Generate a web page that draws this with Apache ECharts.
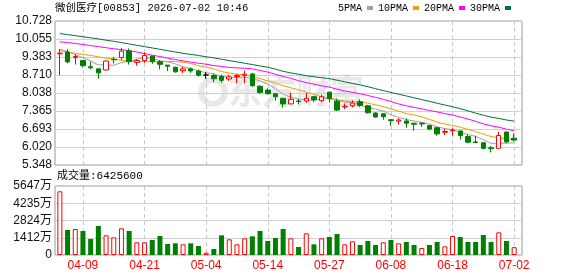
<!DOCTYPE html>
<html>
<head>
<meta charset="utf-8">
<title>微创医疗 K线</title>
<script src="https://cdn.jsdelivr.net/npm/echarts@6/dist/echarts.min.js"></script>
<style>
html, body { margin: 0; padding: 0; background: #fff; }
#chart { width: 578px; height: 276px; }
</style>
</head>
<body>
<div id="chart"></div>
<script>
// trading days shown on the chart
var dates = ['04-01','04-02','04-08','04-09','04-10','04-13','04-14','04-15','04-16','04-17',
  '04-20','04-21','04-22','04-23','04-24','04-27','04-28','04-29','04-30','05-04',
  '05-05','05-06','05-07','05-08','05-11','05-12','05-13','05-14','05-15','05-18',
  '05-19','05-20','05-21','05-22','05-26','05-27','05-28','05-29','06-01','06-02',
  '06-03','06-04','06-05','06-08','06-09','06-10','06-11','06-12','06-15','06-16',
  '06-17','06-18','06-22','06-23','06-24','06-25','06-26','06-29','06-30','07-02'];

var opens = [9.50,9.57,9.36,9.25,9.02,8.94,8.90,9.30,9.36,9.61,
  9.18,9.25,9.42,9.20,9.08,9.00,8.87,8.94,8.86,8.71,
  8.69,8.66,8.56,8.65,8.70,8.75,8.29,8.15,8.01,7.84,
  7.63,7.74,7.74,7.90,7.75,8.07,7.73,7.52,7.56,7.71,
  7.56,7.29,7.26,7.04,6.99,6.99,6.91,6.91,6.82,6.74,
  6.57,6.63,6.62,6.41,6.21,6.18,5.99,5.97,6.58,6.35];
var closes = [9.53,9.20,9.40,9.06,8.98,8.79,9.23,9.28,9.60,9.21,
  9.25,9.44,9.21,9.11,9.04,8.83,8.94,8.86,8.70,8.71,
  8.57,8.51,8.64,8.69,8.74,8.31,8.06,8.01,7.90,7.63,
  7.80,7.72,7.84,7.79,7.90,7.83,7.40,7.54,7.66,7.57,
  7.30,7.14,7.16,7.01,7.03,6.91,6.87,6.88,6.69,6.51,
  6.60,6.66,6.45,6.20,6.19,5.97,5.96,6.45,6.21,6.28];
var lows = [8.71,9.15,9.10,8.99,8.92,8.57,8.87,9.14,9.28,9.10,
  9.06,9.17,9.13,8.92,8.86,8.80,8.79,8.79,8.65,8.57,
  8.44,8.42,8.49,8.40,8.40,8.27,8.00,7.98,7.75,7.49,
  7.61,7.62,7.68,7.70,7.69,7.68,7.37,7.44,7.50,7.52,
  7.27,7.12,7.04,6.81,6.86,6.74,6.63,6.77,6.65,6.44,
  6.47,6.44,6.30,6.16,6.16,5.93,5.82,5.96,6.17,6.23];
var highs = [9.68,9.68,9.48,9.25,9.21,8.94,9.25,9.38,9.73,9.70,
  9.31,9.55,9.42,9.27,9.08,9.02,9.02,8.99,8.91,8.81,
  8.77,8.73,8.72,8.75,8.87,8.77,8.33,8.21,8.03,7.86,
  8.05,7.82,8.04,7.93,7.98,8.08,7.82,7.65,7.76,7.80,
  7.60,7.31,7.27,7.06,7.09,7.09,6.92,6.94,6.84,6.76,
  6.70,6.72,6.63,6.49,6.44,6.19,6.06,6.59,6.60,6.52];

// volume, in 万 shares
var volumes = [5212,2047,2128,1965,1310,2374,1610,1446,2183,1965,
  1037,1037,1228,1556,900,955,873,955,737,191,
  491,1610,1283,873,1365,1528,1965,1146,1392,2128,
  1365,655,1774,873,1365,1474,1719,873,1119,819,
  1146,819,1037,1228,955,1064,819,573,819,1064,
  710,1556,1474,1064,1064,1637,1064,1856,1146,642.56];

var ma5 = [9.68,9.58,9.47,9.36,9.236,9.086,9.096,9.072,9.176,9.22,
  9.306,9.35,9.336,9.242,9.206,9.124,9.022,8.952,8.866,8.798,
  8.746,8.66,8.616,8.618,8.63,8.582,8.492,8.366,8.208,7.984,
  7.882,7.816,7.782,7.762,7.816,7.824,7.758,7.698,7.668,7.60,
  7.49,7.438,7.36,7.23,7.124,7.046,6.992,6.938,6.876,6.774,
  6.71,6.668,6.58,6.484,6.418,6.296,6.156,6.162,6.16,6.178];
var ma10 = [9.62,9.57,9.52,9.48,9.44,9.39,9.34,9.30,9.26,9.228,
  9.196,9.223,9.204,9.209,9.213,9.215,9.186,9.144,9.054,9.002,
  8.935,8.841,8.784,8.742,8.714,8.664,8.576,8.491,8.413,8.307,
  8.232,8.154,8.074,7.985,7.90,7.853,7.787,7.74,7.715,7.708,
  7.657,7.598,7.529,7.449,7.362,7.268,7.215,7.149,7.053,6.949,
  6.878,6.83,6.759,6.68,6.596,6.503,6.412,6.371,6.322,6.298];
var ma20 = [9.95,9.92,9.89,9.85,9.81,9.77,9.73,9.69,9.66,9.62,
  9.57,9.51,9.45,9.40,9.34,9.29,9.24,9.19,9.15,9.115,
  9.066,9.032,8.994,8.976,8.964,8.940,8.881,8.818,8.734,8.655,
  8.584,8.498,8.429,8.364,8.307,8.259,8.182,8.116,8.064,8.008,
  7.945,7.876,7.802,7.717,7.631,7.561,7.501,7.445,7.384,7.329,
  7.268,7.214,7.144,7.065,6.979,6.886,6.814,6.76,6.688,6.624];
var ma30 = [10.26,10.22,10.18,10.14,10.10,10.06,10.01,9.97,9.92,9.87,
  9.82,9.77,9.72,9.67,9.62,9.57,9.52,9.48,9.44,9.39,
  9.35,9.30,9.25,9.20,9.15,9.10,9.05,9.00,8.93,8.846,
  8.788,8.739,8.687,8.645,8.609,8.577,8.516,8.458,8.394,8.339,
  8.275,8.198,8.129,8.059,7.992,7.928,7.859,7.793,7.727,7.655,
  7.589,7.527,7.454,7.371,7.286,7.208,7.138,7.087,7.03,6.985];

var priceTicks = ['5.348','6.020','6.693','7.365','8.038','8.710','9.383','10.055','10.728'];
var volumeTicks = ['0','1412万','2824万','4235万','5647万'];

var PRICE_MIN = 5.348, PRICE_STEP = 0.6725;
var VOL_MAX = 5647, VOL_STEP = VOL_MAX / 4;

var RED = '#ff0000', GREEN = '#008000';
var FONT = '"Liberation Sans", "Noto Sans CJK SC", sans-serif';
var MONO = '"Liberation Mono", "Noto Sans CJK SC", monospace';

// the price axis starts at 0 so the ticks line up: values are shifted by PRICE_MIN
function sp(v) { return +(v - PRICE_MIN).toFixed(4); }

var kData = dates.map(function (d, i) {
  return [sp(opens[i]), sp(closes[i]), sp(lows[i]), sp(highs[i])];
});

var volData = volumes.map(function (v, i) {
  var up = i === 0 ? closes[i] >= opens[i] : closes[i] >= closes[i - 1];
  return {
    value: v,
    itemStyle: up ? { color: '#fff', borderColor: RED, borderWidth: 1 }
                  : { color: GREEN, borderColor: GREEN, borderWidth: 0 }
  };
});

function every8(i) { return i % 8 === 3; }

var dashed = { show: true, interval: every8, alignWithLabel: true,
  lineStyle: { color: '#c8c8c8', type: [4, 3], width: 1 } };
var solid = { show: true, lineStyle: { color: '#d0d0d0', width: 1 } };

var maLine = function (name, data, color) {
  return {
    name: name, type: 'line', xAxisIndex: 1, yAxisIndex: 1,
    data: data.map(sp), symbol: 'none', color: color,
    lineStyle: { width: 1, color: color }, z: 3, silent: true
  };
};

var chart = echarts.init(document.getElementById('chart'), null, { renderer: 'canvas' });

chart.setOption({
  animation: false,
  backgroundColor: '#fff',
  title: [{
    text: '微创医疗[00853] 2026-07-02 10:46',
    left: 55, top: 3, padding: 0,
    textStyle: { fontSize: 10.5, fontWeight: 'normal', color: '#000', fontFamily: MONO }
  }, {
    text: '成交量:' + Math.round(volumes[volumes.length - 1] * 10000),
    left: 57, top: 171, padding: 0,
    textStyle: { fontSize: 11, fontWeight: 'normal', color: '#000', fontFamily: MONO }
  }],
  legend: {
    data: ['5PMA', '10PMA', '20PMA', '30PMA'],
    right: 67, top: 3, padding: 0,
    align: 'right', icon: 'rect', itemWidth: 6, itemHeight: 4, itemGap: 5,
    selectedMode: false,
    textStyle: { fontSize: 10, color: '#000', fontFamily: MONO }
  },
  graphic: [{
    type: 'text', left: 228, top: 74, z: -10, silent: true,
    style: { text: '东方财富', fontSize: 34, fontWeight: 'bold', fill: '#e8e8e8',
      fontFamily: '"Noto Sans CJK SC"' }
  }, {
    type: 'circle', shape: { cx: 213, cy: 92, r: 12 }, z: -10, silent: true,
    style: { fill: 'none', stroke: '#e8e8e8', lineWidth: 6 }
  }],
  grid: [
    { left: 55, right: 56, top: 21, height: 144, show: true, borderColor: '#999', borderWidth: 1 },
    { left: 56, right: 60, top: 21, height: 144 },
    { left: 55, right: 56, top: 186, height: 69, show: true, borderColor: '#999', borderWidth: 1 },
    { left: 56, right: 60, top: 186, height: 69 }
  ],
  xAxis: [
    { gridIndex: 0, type: 'value', min: 0, max: 1, show: false },
    { gridIndex: 1, type: 'category', data: dates, boundaryGap: true,
      axisLine: { show: false }, axisTick: { show: false }, axisLabel: { show: false },
      splitLine: dashed },
    { gridIndex: 2, type: 'value', min: 0, max: 1, show: false },
    { gridIndex: 3, type: 'category', data: dates, boundaryGap: true,
      axisLine: { show: false }, axisTick: { show: false },
      axisLabel: { interval: every8, color: RED, fontSize: 12, fontFamily: FONT, margin: 5 },
      splitLine: dashed }
  ],
  yAxis: [
    { gridIndex: 0, type: 'value', min: 0, max: sp(10.728), interval: PRICE_STEP,
      axisLine: { show: false }, axisTick: { show: false }, splitLine: solid,
      axisLabel: { color: '#111', fontSize: 12, fontFamily: FONT, margin: 3,
        formatter: function (v) { return priceTicks[Math.round(v / PRICE_STEP)]; } } },
    { gridIndex: 1, type: 'value', min: 0, max: sp(10.728), interval: PRICE_STEP, show: false },
    { gridIndex: 2, type: 'value', min: 0, max: VOL_MAX, interval: VOL_STEP,
      axisLine: { show: false }, axisTick: { show: false }, splitLine: solid,
      axisLabel: { color: '#111', fontSize: 12, fontFamily: FONT, margin: 3,
        formatter: function (v) { return volumeTicks[Math.round(v / VOL_STEP)]; } } },
    { gridIndex: 3, type: 'value', min: 0, max: VOL_MAX, interval: VOL_STEP, show: false }
  ],
  series: [
    {
      type: 'candlestick', xAxisIndex: 1, yAxisIndex: 1, data: kData,
      barWidth: 5, z: 4,
      itemStyle: {
        color: '#fff', color0: GREEN,
        borderColor: RED, borderColor0: GREEN, borderColorDoji: '#000',
        borderWidth: 1
      }
    },
    maLine('5PMA', ma5, '#a0a0a0'),
    maLine('10PMA', ma10, '#f0a000'),
    maLine('20PMA', ma20, '#ff00ff'),
    maLine('30PMA', ma30, '#007040'),
    {
      type: 'bar', xAxisIndex: 3, yAxisIndex: 3, data: volData,
      barWidth: 5, silent: true
    }
  ]
});
</script>
</body>
</html>
